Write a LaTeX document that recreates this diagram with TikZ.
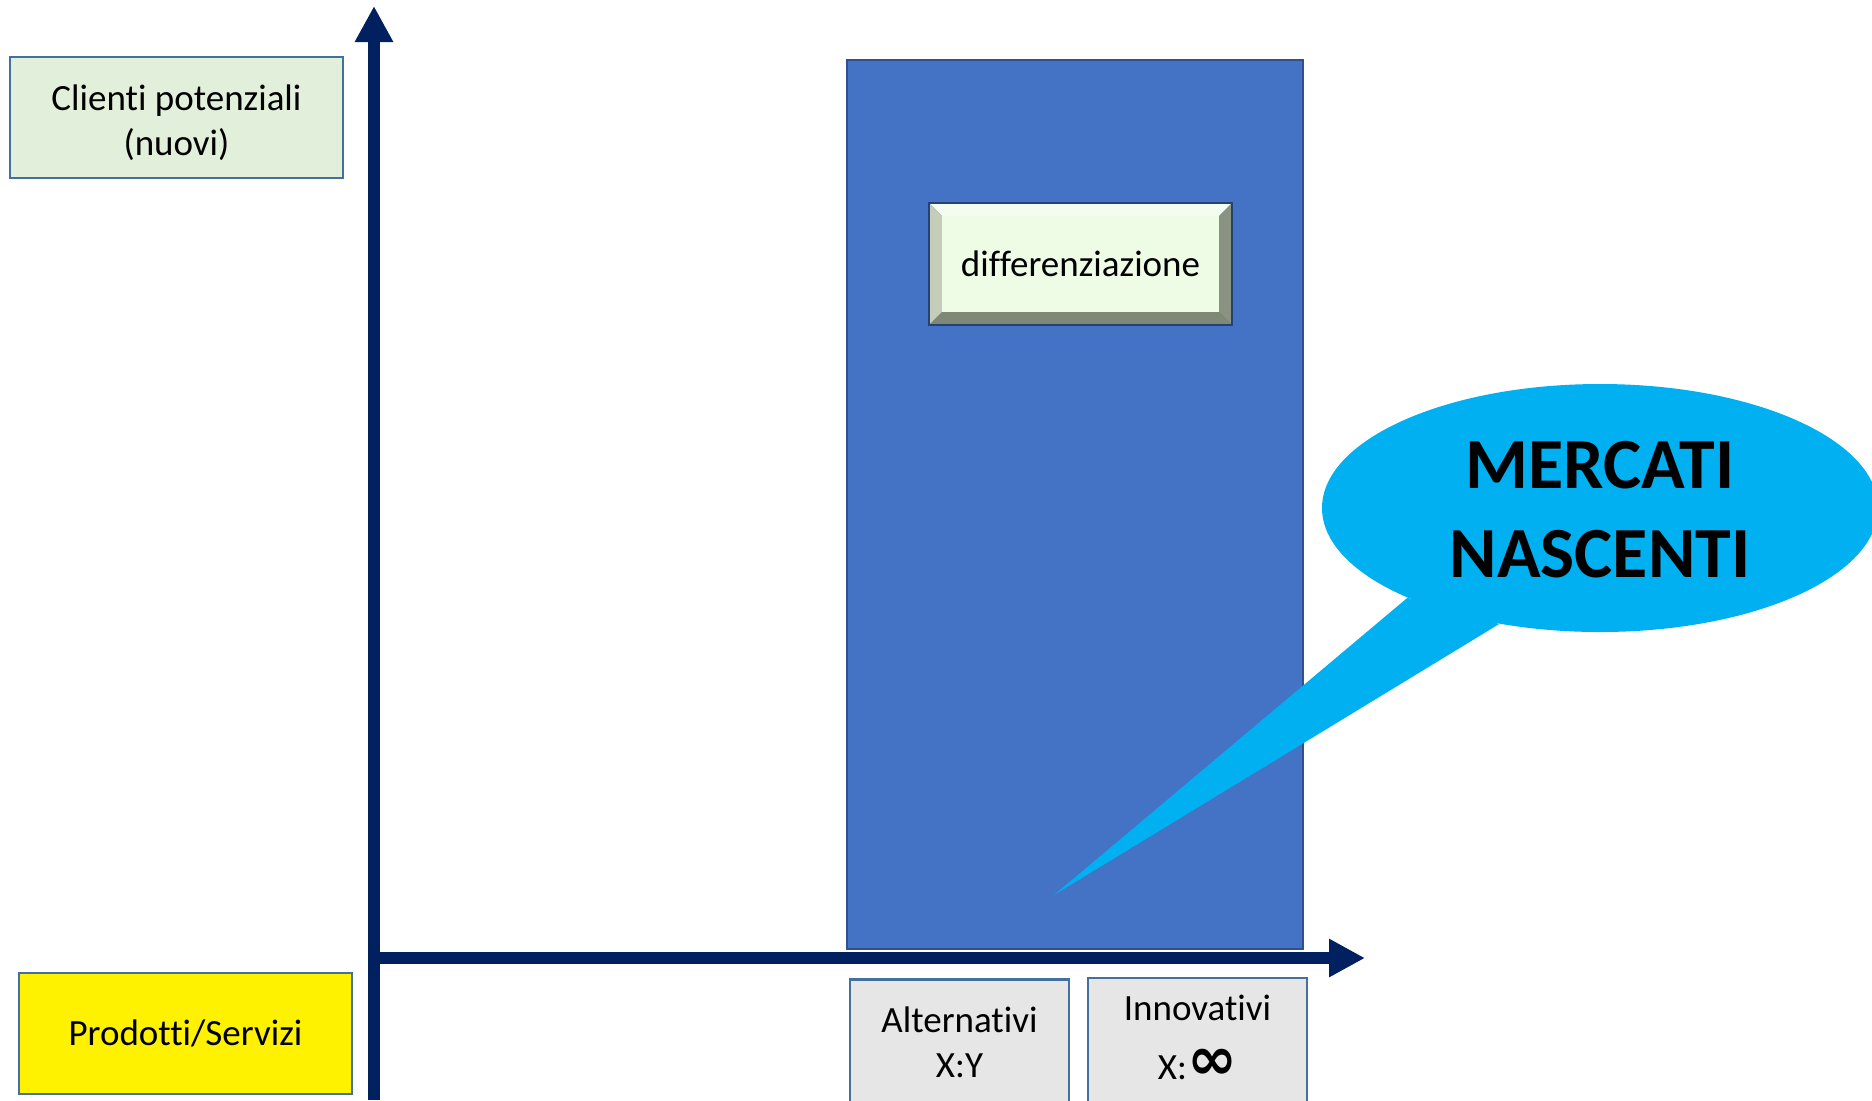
\documentclass[tikz,border=0pt]{standalone}
\usepackage{fontspec}
\setmainfont{Carlito}[Ligatures={NoCommon,NoContextual}]
\newfontfamily\symfont{DejaVu Sans}
\usetikzlibrary{arrows.meta,shapes.geometric}

\definecolor{axisblue}{HTML}{002060}
\definecolor{rectblue}{HTML}{4472C4}
\definecolor{rectedge}{HTML}{2F528F}
\definecolor{boxedge}{HTML}{41719C}
\definecolor{paleGreen}{HTML}{E2EFDA}
\definecolor{paleGray}{HTML}{E7E6E6}
\definecolor{bubbleCyan}{HTML}{00B0F0}
\definecolor{btnface}{HTML}{EEFCE6}
\definecolor{btntop}{HTML}{F4FBEF}
\definecolor{btnleft}{HTML}{C3CDB9}
\definecolor{btnright}{HTML}{8A9282}
\definecolor{btnbottom}{HTML}{7F8777}

\tikzset{
  labelbox/.style={draw=boxedge, line width=1.2pt, rectangle, align=center,
    minimum width=166.5pt, minimum height=60.5pt, inner sep=0pt,
    font=\fontsize{18.5}{22.5}\selectfont},
  scalebox/.style={labelbox, fill=paleGray, minimum width=109.5pt, minimum height=63pt},
  axis/.style={axisblue, line width=6pt, -{Triangle[length=18pt,width=18pt]}}
}

\begin{document}
\begin{tikzpicture}[x=0.5pt, y=-0.5pt]
  \useasboundingbox (0,0) rectangle (1872,1100);

  % axis labels
  \node[labelbox, fill=paleGreen] (clienti) at (176.5,117.5) {\rule{0pt}{18pt}Clienti potenziali\\(nuovi)};
  \node[labelbox, fill=yellow] (prodotti) at (185.5,1033.5) {Prodotti/Servizi};

  % market column
  \node[draw=rectedge, fill=rectblue, line width=1.2pt, minimum width=228pt,
    minimum height=444.5pt, inner sep=0pt] (colonna) at (1075,504.5) {};

  % bevel button
  \coordinate (btnA) at (929,203);
  \coordinate (btnB) at (1232,325);
  \fill[btntop] (929,203) -- (1232,203) -- (1219,216) -- (942,216) -- cycle;
  \fill[btnleft] (929,203) -- (942,216) -- (942,312) -- (929,325) -- cycle;
  \fill[btnright] (1232,203) -- (1232,325) -- (1219,312) -- (1219,216) -- cycle;
  \fill[btnbottom] (929,325) -- (942,312) -- (1219,312) -- (1232,325) -- cycle;
  \fill[btnface] (942,216) rectangle (1219,312);
  \draw[rectedge!80!black, line width=1.2pt] (btnA) rectangle (btnB);
  \node[font=\fontsize{18.5}{22.5}\selectfont] (diff) at (1080.5,264) {differenziazione};

  % speech bubble
  \node[ellipse, fill=bubbleCyan, minimum width=278pt, minimum height=124pt,
    inner sep=0pt] (bubble) at (1600,508) {};
  \coordinate (tip) at (1054,895);
  \fill[bubbleCyan] (bubble.205) -- (tip) -- (bubble.229) -- cycle;
  \node[font=\fontsize{36}{44.5}\selectfont\bfseries, align=center] (mercati)
    at (1600,510) {MERCATI\\NASCENTI};

  % axes
  \coordinate (origin) at (374,958);
  \coordinate (ytop) at (374,6);
  \coordinate (ybot) at (374,1100);
  \coordinate (xend) at (1365,958);
  \draw[axis] (ybot) -- (ytop);
  \draw[axis] ([xshift=-3pt]origin) -- (xend);

  % scale boxes
  \node[scalebox] (alternativi) at (959.5,1042.5) {Alternativi\\X:Y};
  \node[scalebox] (innovativi) at (1197.5,1041) {Innovativi\\[7pt]X:{\symfont\bfseries\fontsize{30}{30}\selectfont ∞}\rule[-4pt]{0pt}{0pt}};
\end{tikzpicture}
\end{document}
